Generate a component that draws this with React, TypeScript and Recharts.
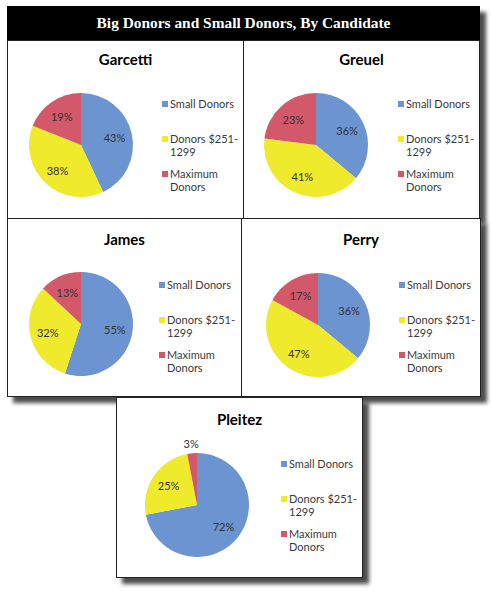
import React from "react";
import { PieChart, Pie, Cell, Legend } from "recharts";

const CATEGORIES = ["Small Donors", "Donors $251-1299", "Maximum Donors"];
const LEGEND_LINES = [["Small Donors"], ["Donors $251-", "1299"], ["Maximum", "Donors"]];

const GARCETTI = [43, 38, 19];
const GREUEL = [36, 41, 23];
const JAMES = [55, 32, 13];
const PERRY = [36, 47, 17];
const PLEITEZ = [72, 25, 3];

const COLORS = ["#6b94d0", "#efea2c", "#d3586a"];
const RADIAN = Math.PI / 180;
const SANS = "Lato, 'Open Sans', sans-serif";

function renderLabel(props: any) {
  const { cx, cy, midAngle, outerRadius, value } = props;
  const r = value < 5 ? outerRadius + 10 : outerRadius * 0.66;
  const x = cx + r * Math.cos(-midAngle * RADIAN);
  const y = cy + r * Math.sin(-midAngle * RADIAN);
  return (
    <text
      x={x}
      y={y}
      fill="#333"
      fontSize={11}
      fontFamily={SANS}
      textAnchor="middle"
      dominantBaseline="central"
    >
      {`${value}%`}
    </text>
  );
}

function renderLegend() {
  return (
    <div style={{ fontFamily: SANS, fontSize: 11, lineHeight: "13px", color: "#3a3a3a" }}>
      {LEGEND_LINES.map((lines, i) => (
        <div key={i} style={{ display: "flex", alignItems: "flex-start", height: 35 }}>
          <span
            style={{
              width: 6,
              height: 6,
              background: COLORS[i],
              marginTop: 4,
              marginRight: 2,
              flex: "none",
            }}
          />
          <div>
            {lines.map((l) => (
              <div key={l} style={{ whiteSpace: "nowrap" }}>{l}</div>
            ))}
          </div>
        </div>
      ))}
    </div>
  );
}

interface PanelProps {
  name: string;
  values: number[];
  left: number;
  top: number;
  width: number;
  height: number;
  cx: number;
  cy: number;
  titleY: number;
  legendX: number;
  legendY: number;
  shadow?: boolean;
}

function Panel(p: PanelProps) {
  const data = CATEGORIES.map((name, i) => ({ name, value: p.values[i] }));
  return (
    <div
      style={{
        position: "absolute",
        left: p.left,
        top: p.top,
        width: p.width,
        height: p.height,
        boxSizing: "border-box",
        border: "1px solid #222",
        background: "#fff",
        boxShadow: p.shadow ? "6px 6px 4px rgba(0,0,0,0.7)" : undefined,
      }}
    >
      <div
        style={{
          position: "absolute",
          left: 0,
          width: "100%",
          top: p.titleY - 10,
          lineHeight: "20px",
          textAlign: "center",
          fontFamily: SANS,
          fontWeight: 700,
          fontSize: 15,
          color: "#000",
        }}
      >
        {p.name}
      </div>
      <PieChart
        width={p.width - 2}
        height={p.height - 2}
        margin={{ top: 0, right: 0, bottom: 0, left: 0 }}
      >
        <Pie
          data={data}
          dataKey="value"
          nameKey="name"
          cx={p.cx}
          cy={p.cy}
          outerRadius={52}
          startAngle={90}
          endAngle={-270}
          stroke="none"
          label={renderLabel}
          labelLine={false}
          isAnimationActive={false}
        >
          {data.map((entry, i) => (
            <Cell key={entry.name} fill={COLORS[i]} />
          ))}
        </Pie>
        <Legend
          content={renderLegend}
          wrapperStyle={{ left: p.legendX, top: p.legendY - 6.5, width: 90 }}
        />
      </PieChart>
    </div>
  );
}

export default function App() {
  return (
    <div style={{ position: "absolute", left: 0, top: 0, width: 492, height: 600, background: "#fff" }}>
      <div
        style={{
          position: "absolute",
          left: 7,
          top: 6,
          width: 473,
          height: 212,
          boxShadow: "6px 6px 4px rgba(0,0,0,0.7)",
          background: "#fff",
        }}
      />
      <div
        style={{
          position: "absolute",
          left: 7,
          top: 6,
          width: 473,
          height: 34,
          background: "#000",
          color: "#fff",
          textAlign: "center",
          lineHeight: "34px",
          fontFamily: "'Liberation Serif', serif",
          fontWeight: 700,
          fontSize: 15.4,
        }}
      >
        Big Donors and Small Donors, By Candidate
      </div>
      <Panel name="Garcetti" values={GARCETTI} left={7} top={40} width={237} height={179}
        cx={73} cy={104} titleY={18} legendX={154} legendY={62} />
      <Panel name="Greuel" values={GREUEL} left={243} top={40} width={237} height={179}
        cx={72} cy={104} titleY={18} legendX={154} legendY={62} />
      <Panel name="James" values={JAMES} left={7} top={218} width={235} height={179}
        cx={73} cy={105} titleY={20} legendX={151} legendY={65} shadow />
      <Panel name="Perry" values={PERRY} left={241} top={218} width={240} height={179}
        cx={76} cy={106} titleY={20} legendX={157} legendY={65} shadow />
      <Panel name="Pleitez" values={PLEITEZ} left={116} top={397} width={247} height={181}
        cx={80} cy={107} titleY={21} legendX={164} legendY={65} shadow />
    </div>
  );
}
